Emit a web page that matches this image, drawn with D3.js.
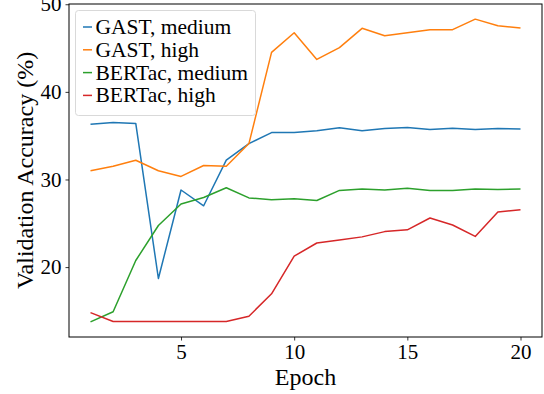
<!DOCTYPE html>
<html>
<head>
<meta charset="utf-8">
<script src="https://cdn.jsdelivr.net/npm/d3@7"></script>
<style>
  body { margin: 0; background: #fff; }
  svg text { font-family: "Liberation Serif", "DejaVu Serif", serif; fill: #000; }
</style>
</head>
<body>
<div id="chart"></div>
<script>
// data
const epochs = [1, 2, 3, 4, 5, 6, 7, 8, 9, 10, 11, 12, 13, 14, 15, 16, 17, 18, 19, 20];
const gastMedium = [36.3, 36.5, 36.4, 18.7, 28.8, 27.0, 32.2, 34.1, 35.35, 35.37, 35.55, 35.9, 35.57, 35.83, 35.94, 35.7, 35.86, 35.7, 35.83, 35.75];
const gastHigh = [31.0, 31.5, 32.2, 31.0, 30.35, 31.6, 31.5, 34.1, 44.5, 46.75, 43.7, 45.05, 47.25, 46.4, 46.75, 47.1, 47.1, 48.3, 47.55, 47.3];
const bertacMedium = [13.75, 14.9, 20.75, 24.75, 27.2, 27.95, 29.05, 27.9, 27.7, 27.8, 27.6, 28.75, 28.9, 28.8, 29.0, 28.75, 28.75, 28.9, 28.85, 28.9];
const bertacHigh = [14.8, 13.8, 13.8, 13.8, 13.8, 13.8, 13.78, 14.4, 16.95, 21.25, 22.75, 23.1, 23.45, 24.05, 24.25, 25.6, 24.8, 23.5, 26.3, 26.55];

const seriesNames = ['GAST, medium', 'GAST, high', 'BERTac, medium', 'BERTac, high'];
const seriesValues = [gastMedium, gastHigh, bertacMedium, bertacHigh];
const colors = ['#1f77b4', '#ff7f0e', '#2ca02c', '#d62728'];

const xTicks = [5, 10, 15, 20];
const yTicks = [20, 30, 40, 50];

const width = 544, height = 394;
const margin = {top: 4, right: 2, bottom: 57, left: 69};

// matplotlib-like 5% margins around the data
function padded(ext) {
  const pad = (ext[1] - ext[0]) * 0.05;
  return [ext[0] - pad, ext[1] + pad];
}

const x = d3.scaleLinear()
    .domain(padded(d3.extent(epochs)))
    .range([margin.left, width - margin.right]);

const y = d3.scaleLinear()
    .domain(padded(d3.extent(seriesValues.flat())))
    .range([height - margin.bottom, margin.top]);

const svg = d3.select('#chart')
    .append('svg')
    .attr('width', width)
    .attr('height', height);

// lines
const line = d3.line()
    .x((d, i) => x(epochs[i]))
    .y(d => y(d));

svg.append('g')
  .selectAll('path')
  .data(seriesValues)
  .join('path')
    .attr('fill', 'none')
    .attr('stroke', (d, i) => colors[i])
    .attr('stroke-width', 1.5)
    .attr('stroke-linejoin', 'round')
    .attr('d', line);

// axes
const xAxis = svg.append('g')
    .attr('transform', `translate(0,${height - margin.bottom})`)
    .call(d3.axisBottom(x).tickValues(xTicks).tickSize(3.5).tickPadding(4));

const yAxis = svg.append('g')
    .attr('transform', `translate(${margin.left},0)`)
    .call(d3.axisLeft(y).tickValues(yTicks).tickSize(3.5).tickPadding(4));

[xAxis, yAxis].forEach(g => {
  g.select('.domain').remove();
  g.selectAll('.tick line').attr('stroke', '#000').attr('stroke-width', 0.8);
  g.selectAll('.tick text').attr('font-size', 21).attr('font-family', null);
});

// frame
svg.append('rect')
    .attr('x', margin.left)
    .attr('y', margin.top)
    .attr('width', width - margin.left - margin.right)
    .attr('height', height - margin.top - margin.bottom)
    .attr('fill', 'none')
    .attr('stroke', '#000')
    .attr('stroke-width', 1);

// axis labels
svg.append('text')
    .attr('x', (margin.left + width - margin.right) / 2)
    .attr('y', 385)
    .attr('text-anchor', 'middle')
    .attr('font-size', 24)
    .text('Epoch');

svg.append('text')
    .attr('transform', `translate(33,${(margin.top + height - margin.bottom) / 2}) rotate(-90)`)
    .attr('text-anchor', 'middle')
    .attr('font-size', 24)
    .text('Validation Accuracy (%)');

// legend
const legend = svg.append('g');
legend.append('rect')
    .attr('x', 75.5)
    .attr('y', 10.5)
    .attr('width', 180)
    .attr('height', 105)
    .attr('rx', 3)
    .attr('fill', '#fff')
    .attr('fill-opacity', 0.8)
    .attr('stroke', '#d9d9d9')
    .attr('stroke-width', 1);

const items = legend.selectAll('g.item')
  .data(seriesNames)
  .join('g')
    .attr('class', 'item')
    .attr('transform', (d, i) => `translate(0,${34 + i * 22.8})`);

items.append('line')
    .attr('x1', 83).attr('x2', 92)
    .attr('y1', -7).attr('y2', -7)
    .attr('stroke', (d, i) => colors[i])
    .attr('stroke-width', 1.5);

items.append('text')
    .attr('x', 95.5)
    .attr('font-size', 21.5)
    .text(d => d);
</script>
</body>
</html>
